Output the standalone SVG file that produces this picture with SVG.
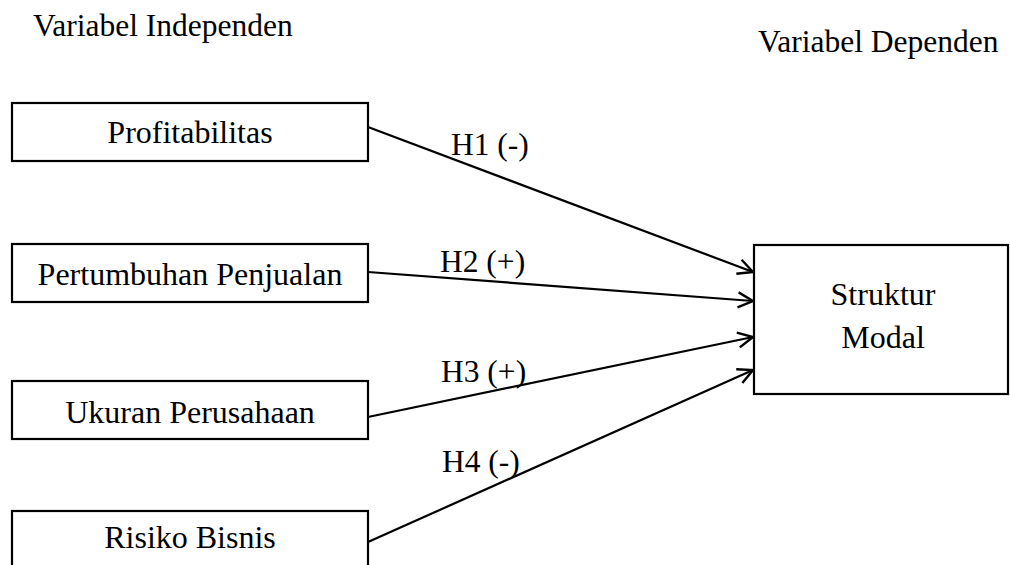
<svg xmlns="http://www.w3.org/2000/svg" width="1010" height="565" viewBox="0 0 1010 565">
<style>
text{font-family:"Liberation Serif","Times New Roman",serif;fill:#000}
.t{font-size:31.5px}
.n{font-size:32px;text-anchor:middle}
.box{fill:#fff;stroke:#000;stroke-width:2.2}
.c{stroke:#000;stroke-width:2.2;fill:none}
</style>
<defs>
<marker id="ah" markerUnits="userSpaceOnUse" markerWidth="30" markerHeight="30" viewBox="-20 -15 30 30" refX="0" refY="0" orient="auto">
<path d="M-15,-7.5 L0,0 L-15,7.5" fill="none" stroke="#000" stroke-width="2.4" stroke-linejoin="miter"/>
</marker>
</defs>
<text class="t" x="33" y="36">Variabel Independen</text>
<text class="t" x="758" y="52">Variabel Dependen</text>
<g id="connectors">
<line class="c" x1="368" y1="127" x2="753" y2="272" marker-end="url(#ah)"/>
<line class="c" x1="368" y1="272" x2="753" y2="301" marker-end="url(#ah)"/>
<line class="c" x1="368" y1="417" x2="753" y2="337" marker-end="url(#ah)"/>
<line class="c" x1="368" y1="542" x2="753" y2="370" marker-end="url(#ah)"/>
<text class="t" x="451" y="155">H1 (-)</text>
<text class="t" x="440" y="272">H2 (+)</text>
<text class="t" x="441" y="382">H3 (+)</text>
<text class="t" x="442" y="472">H4 (-)</text>
</g>
<g id="profitabilitas">
<rect class="box" x="12" y="103" width="356" height="58"/>
<text class="n" x="190" y="143">Profitabilitas</text>
</g>
<g id="pertumbuhan">
<rect class="box" x="12" y="244" width="356" height="58"/>
<text class="n" x="190" y="285">Pertumbuhan Penjualan</text>
</g>
<g id="ukuran">
<rect class="box" x="12" y="381" width="356" height="58"/>
<text class="n" x="190" y="423">Ukuran Perusahaan</text>
</g>
<g id="risiko">
<rect class="box" x="12" y="511" width="356" height="70"/>
<text class="n" x="190" y="548">Risiko Bisnis</text>
</g>
<g id="struktur">
<rect class="box" x="754" y="245" width="254" height="149"/>
<text class="n" x="883" y="305">Struktur</text>
<text class="n" x="883" y="348">Modal</text>
</g>
</svg>
